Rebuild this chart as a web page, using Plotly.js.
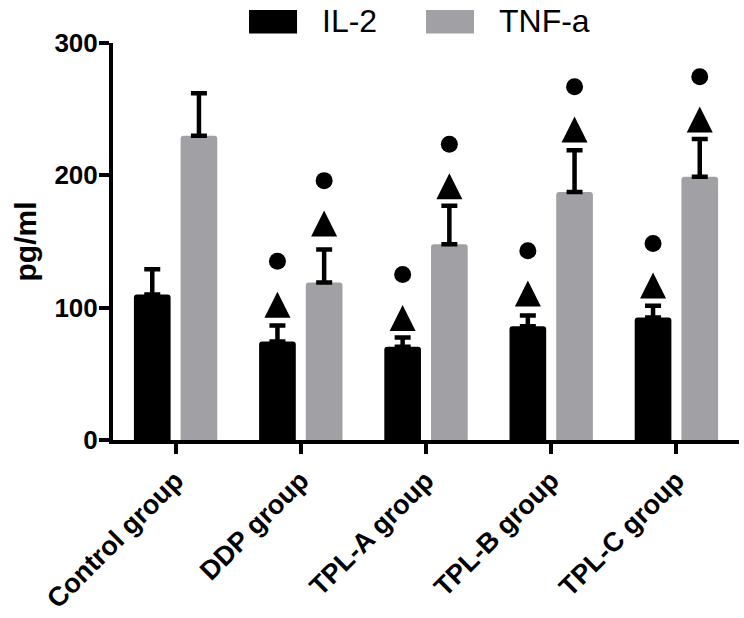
<!DOCTYPE html>
<html>
<head>
<meta charset="utf-8">
<script src="https://cdn.plot.ly/plotly-3.0.1.min.js"></script>
<style>
  html, body { margin: 0; padding: 0; background: #ffffff; }
  #chart { width: 744px; height: 618px; }
</style>
</head>
<body>
<div id="chart"></div>
<script>
// ---- data ----
const categories = ["Control group", "DDP group", "TPL-A group", "TPL-B group", "TPL-C group"];
const seriesNames = ["IL-2", "TNF-a"];
const il2Mean = [110, 74.5, 70.5, 86, 92.5];
const il2Err  = [19, 12, 7, 8, 9];
const tnfMean = [230, 119, 148, 187.5, 199];
const tnfErr  = [32, 25, 29, 31.5, 28.5];
// significance marks (triangle apex / circle centre heights), null = none
const il2Triangle = [null, 112, 102, 120.5, 126.5];
const il2Circle   = [null, 135, 125, 143, 148.5];
const tnfTriangle = [null, 173.5, 201.5, 244.5, 252];
const tnfCircle   = [null, 196, 223.5, 267, 274.5];
const yTicks = [0, 100, 200, 300];

// ---- style ----
const FONT = "Liberation Sans, Arial, Helvetica, sans-serif";
const colors = ["#000000", "#a1a1a5"];
const barWidth = 0.293;
const offsets = [-0.333, 0.04];
const xIdx = categories.map((_, i) => i);

function barTrace(k, mean, err) {
  return {
    type: "bar", name: seriesNames[k], x: xIdx, y: mean,
    width: barWidth, offset: offsets[k],
    marker: { color: colors[k], line: { width: 0 } },
    error_y: { type: "data", symmetric: false, array: err,
               arrayminus: err.map(() => 0), color: "#000000",
               thickness: 4.5, width: 8 },
    showlegend: false, hoverinfo: "skip"
  };
}
function markTrace(k, vals, symbol, size) {
  const c = offsets[k] + barWidth / 2;
  return {
    type: "scatter", mode: "markers",
    x: xIdx.map(i => i + c), y: vals,
    marker: { symbol: symbol, size: size, color: "#000000", line: { width: 0 } },
    showlegend: false, hoverinfo: "skip", cliponaxis: false
  };
}

const data = [
  barTrace(0, il2Mean, il2Err),
  barTrace(1, tnfMean, tnfErr),
  markTrace(0, il2Triangle, "arrow-up", 26),
  markTrace(0, il2Circle, "circle", 17),
  markTrace(1, tnfTriangle, "arrow-up", 26),
  markTrace(1, tnfCircle, "circle", 17)
];

// custom legend built from series names / colours
const legendX = [0.2173, 0.5];
const shapes = seriesNames.map((n, k) => ({
  type: "rect", xref: "paper", yref: "paper",
  x0: legendX[k], x1: legendX[k] + 0.0767, y0: 1.024, y1: 1.083,
  fillcolor: colors[k], line: { width: 0 }
}));
const annotations = seriesNames.map((n, k) => ({
  xref: "paper", yref: "paper", x: legendX[k] + 0.113, y: 1.055,
  xanchor: "left", yanchor: "middle", text: n, showarrow: false,
  font: { family: FONT, size: 32, color: "#000000" }
}));

const layout = {
  width: 744, height: 618,
  margin: { l: 113, r: 5, t: 42.5, b: 177.5 },
  paper_bgcolor: "#ffffff", plot_bgcolor: "#ffffff",
  barmode: "overlay",
  barcornerradius: 3,
  showlegend: false,
  font: { family: FONT, color: "#000000" },
  xaxis: {
    range: [-0.5, 4.5], tickmode: "array", tickvals: xIdx, ticktext: categories,
    tickangle: -45, showgrid: false, zeroline: false,
    showline: true, linecolor: "#000000", linewidth: 4,
    ticks: "outside", ticklen: 10, tickwidth: 4, tickcolor: "#000000",
    tickfont: { family: FONT, size: 27, color: "#000000", weight: "bold" }
  },
  yaxis: {
    range: [0, 300], tickmode: "array", tickvals: yTicks,
    showgrid: false, zeroline: false,
    showline: true, linecolor: "#000000", linewidth: 4,
    ticks: "outside", ticklen: 10, tickwidth: 4, tickcolor: "#000000",
    ticklabelstandoff: -4,
    tickfont: { family: FONT, size: 26, color: "#000000", weight: "bold" },
    title: { text: "pg/ml", standoff: 10,
             font: { family: FONT, size: 30, color: "#000000", weight: "bold" } }
  },
  shapes: shapes,
  annotations: annotations
};

Plotly.newPlot("chart", data, layout, { displayModeBar: false, staticPlot: true });
</script>
</body>
</html>
